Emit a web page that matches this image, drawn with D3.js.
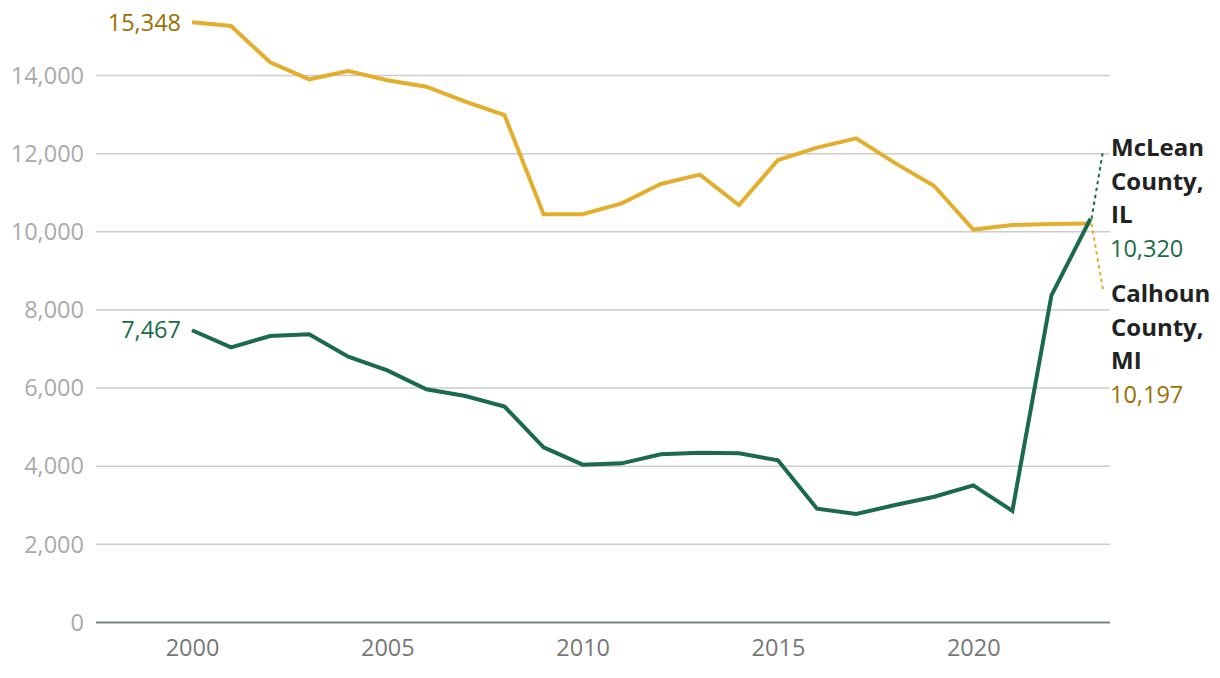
<!DOCTYPE html>
<html><head><meta charset="utf-8">
<script src="https://cdn.jsdelivr.net/npm/d3@7"></script>
<style>
html,body{margin:0;padding:0;background:#fff;}
svg{display:block;font-family:"Open Sans",sans-serif;}
</style></head>
<body><svg id="c" width="1220" height="678"></svg>
<script>
const years = d3.range(2000, 2024);
const calhoun = [15348,15254,14325,13890,14102,13864,13700,13317,12976,10435,10435,10716,11210,11449,10673,11824,12140,12380,11745,11159,10045,10161,10186,10197];
const mclean = [7467,7030,7320,7364,6790,6440,5956,5784,5515,4471,4027,4061,4291,4334,4317,4140,2900,2764,2994,3205,3495,2845,8360,10320];
const yTicks = [0,2000,4000,6000,8000,10000,12000,14000];
const xTicks = [2000,2005,2010,2015,2020];
const series = [
  {name:["McLean","County,","IL"], values:mclean, line:"#1b6a4d", text:"#1b6a4d", labelY:156, anchorY:151},
  {name:["Calhoun","County,","MI"], values:calhoun, line:"#e3ae2e", text:"#9a7000", labelY:302, anchorY:290}
];

const svg = d3.select("#c");
const x = d3.scaleLinear().domain([2000,2023]).range([192,1090.5]);
const y = d3.scaleLinear().domain([0,14000]).range([622,75]);
const fmt = d3.format(",");

const yAxis = d3.axisLeft(y).tickValues(yTicks).tickSize(-(1110-96)).tickPadding(12).tickFormat(fmt);
const gy = svg.append("g").attr("transform","translate(96,0)").call(yAxis);
gy.select(".domain").remove();
gy.selectAll(".tick line").attr("stroke","#cccccc").attr("stroke-width",1.5);
gy.selectAll(".tick text").attr("fill","#aaaaaa").attr("font-size",23.5).attr("font-family","Open Sans").attr("dy","0.35em");
gy.selectAll(".tick").filter(d=>d===0).select("line").attr("stroke","#7b838a").attr("stroke-width",2.2);

const xAxis = d3.axisBottom(x).tickValues(xTicks).tickSize(0).tickPadding(17).tickFormat(d3.format("d"));
const gx = svg.append("g").attr("transform","translate(0,622)").call(xAxis);
gx.select(".domain").remove();
gx.selectAll(".tick text").attr("fill","#777777").attr("font-size",23.5).attr("font-family","Open Sans");

const line = d3.line().x((d,i)=>x(years[i])).y(d=>y(d));

[series[1], series[0]].forEach(s=>{
  svg.append("path").datum(s.values).attr("d",line).attr("fill","none")
    .attr("stroke",s.line).attr("stroke-width",4).attr("stroke-linejoin","miter").attr("stroke-linecap","butt");
});

series.forEach(s=>{
  const last = s.values[s.values.length-1];
  svg.append("text").attr("x",x(2000)-11).attr("y",y(s.values[0])).attr("dy","0.35em")
    .attr("text-anchor","end").attr("fill",s.text).attr("font-size",23.5).text(fmt(s.values[0]));
  svg.append("line").attr("x1",x(2023)+1).attr("y1",y(last)).attr("x2",1103).attr("y2",s.anchorY)
    .attr("stroke",s.line).attr("stroke-width",2).attr("stroke-dasharray","3.5,3.5");
  const t = svg.append("text").attr("x",1111).attr("y",s.labelY).attr("font-size",24);
  s.name.forEach((n,i)=>{
    t.append("tspan").attr("x",1111).attr("y",s.labelY+i*33.6).attr("font-weight",700).attr("fill","#222222").text(n);
  });
  t.append("tspan").attr("x",1110).attr("y",s.labelY+3*33.6).attr("font-size",23.5).attr("fill",s.text).text(fmt(last));
});
</script></body></html>
